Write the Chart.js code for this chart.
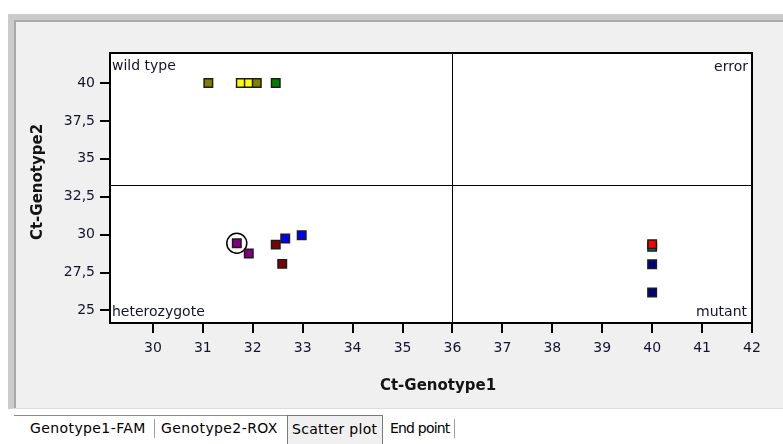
<!DOCTYPE html>
<html>
<head>
<meta charset="utf-8">
<title>Scatter plot</title>
<script src="https://cdn.jsdelivr.net/npm/chart.js@4/dist/chart.umd.min.js"></script>
<style>
  body {
    margin: 0;
    width: 783px;
    height: 444px;
    overflow: hidden;
    background: #fff;
    position: relative;
    font-family: "DejaVu Sans", sans-serif;
  }
  .frame {
    position: absolute;
    left: 8px;
    top: 14px;
    width: 800px;
    height: 395px;
    box-sizing: border-box;
    background: #f0f0f0;
    border-top: 6px solid #cbcbcb;
    border-left: 6px solid #cbcbcb;
    border-bottom: 1px solid #dcdcdc;
    box-shadow: inset 2px 2px 0 #a9a9a9;
  }
  .tabline {
    position: absolute;
    left: 14px;
    top: 415px;
    width: 274px;
    height: 0;
    border-top: 1px solid #8c8c8c;
  }
  .tab {
    position: absolute;
    top: 419px;
    font-size: 14px;
    line-height: 18px;
    color: #000;
    white-space: nowrap;
  }
  .tab.active {
    top: 415px;
    left: 287px;
    width: 96px;
    height: 40px;
    box-sizing: border-box;
    padding: 4px 0 0 4px;
    background: #f0f0f0;
    border: 1px solid #7a7a7a;
    border-bottom: none;
    letter-spacing: 0.3px;
  }
  .sep {
    position: absolute;
    top: 419px;
    width: 0;
    height: 19px;
    border-left: 1px solid #a0a0a0;
  }
  #chart {
    position: absolute;
    left: 0;
    top: 0;
  }
</style>
</head>
<body>
<div class="frame"></div>
<div class="tabline"></div>
<span class="tab" style="left:30px; letter-spacing:0.4px">Genotype1-FAM</span>
<div class="sep" style="left:154px"></div>
<span class="tab" style="left:161px; letter-spacing:0.4px">Genotype2-ROX</span>
<span class="tab active">Scatter plot</span>
<span class="tab" style="left:390px; letter-spacing:-0.8px">End point</span>
<div class="sep" style="left:454px"></div>
<canvas id="chart" width="783" height="444"></canvas>

<script>
// Ct values per well
const ct1 = [31.11, 31.76, 31.92, 32.08, 32.46, 31.68, 31.92, 32.46, 32.65, 32.98, 32.59, 40, 40, 40, 40];
const ct2 = [40, 40, 40, 40, 40, 29.43, 28.75, 29.34, 29.74, 29.96, 28.07, 29.2, 29.37, 28.05, 26.18];
const wellGroup = ["olive", "yellow", "yellow", "olive", "green", "purple", "purple", "maroon",
                   "blue", "blue", "maroon", "teal", "red", "navy", "navy"];
const selectedWell = 5;

const xTicks = [30, 31, 32, 33, 34, 35, 36, 37, 38, 39, 40, 41, 42];
const yTicks = [25, 27.5, 30, 32.5, 35, 37.5, 40];
const xRange = [29.14, 42];
const yRange = [24.17, 41.98];
const cutoffX = 36;
const cutoffY = 33.27;
const quadrantNames = ["wild type", "error", "heterozygote", "mutant"];
const xTitle = "Ct-Genotype1";
const yTitle = "Ct-Genotype2";

const palette = {
    olive: "#808000", yellow: "#ffff00", green: "#008000", purple: "#800080",
    maroon: "#800000", blue: "#0000ff", teal: "#008080", red: "#ff0000", navy: "#000080"
};

const textColor = "#141430";
const font = "DejaVu Sans";

// white plot area, frame, cut-off lines, quadrant names and axis titles
const plotDecor = {
    id: "plotDecor",
    beforeDraw(chart) {
        const { ctx, chartArea: a } = chart;
        ctx.save();
        ctx.fillStyle = "#fff";
        ctx.fillRect(a.left, a.top, a.right - a.left, a.bottom - a.top);
        ctx.restore();
    },
    beforeDatasetsDraw(chart) {
        const { ctx, chartArea: a, scales } = chart;
        const cx = Math.round(scales.x.getPixelForValue(cutoffX)) + 0.5;
        const cy = Math.round(scales.y.getPixelForValue(cutoffY)) + 0.5;
        ctx.save();
        ctx.strokeStyle = "#000";
        ctx.lineWidth = 1;
        ctx.beginPath();
        ctx.moveTo(cx, a.top);
        ctx.lineTo(cx, a.bottom);
        ctx.moveTo(a.left, cy);
        ctx.lineTo(a.right, cy);
        ctx.stroke();

        ctx.lineWidth = 2;
        ctx.strokeRect(a.left, a.top, a.right - a.left, a.bottom - a.top);

        ctx.fillStyle = textColor;
        ctx.font = "14px '" + font + "'";
        ctx.textBaseline = "middle";
        ctx.textAlign = "left";
        ctx.fillText(quadrantNames[0], a.left + 2, a.top + 13);
        ctx.fillText(quadrantNames[2], a.left + 2, a.bottom - 11);
        ctx.textAlign = "right";
        ctx.fillText(quadrantNames[1], a.right - 4, a.top + 14);
        ctx.fillText(quadrantNames[3], a.right - 5, a.bottom - 11);

        ctx.font = "bold 15px '" + font + "'";
        ctx.fillStyle = "#141414";
        ctx.textAlign = "center";
        ctx.fillText(xTitle, 438, 386);
        ctx.translate(38, 182);
        ctx.rotate(-Math.PI / 2);
        ctx.fillText(yTitle, 0, 0);
        ctx.restore();
    }
};

const tickFont = { family: font, size: 14 };

new Chart(document.getElementById("chart"), {
    type: "scatter",
    data: {
        datasets: [
            {
                label: "wells",
                data: ct1.map((x, i) => ({ x: x, y: ct2[i] })),
                pointStyle: "rect",
                pointRadius: 6,
                pointBorderWidth: 1.5,
                pointBorderColor: "#1c1c1c",
                pointBackgroundColor: wellGroup.map(g => palette[g])
            },
            {
                label: "selected",
                data: [{ x: ct1[selectedWell], y: ct2[selectedWell] }],
                pointStyle: "circle",
                pointRadius: 10,
                pointBorderWidth: 1.5,
                pointBorderColor: "#000",
                pointBackgroundColor: "rgba(0,0,0,0)"
            }
        ]
    },
    options: {
        responsive: false,
        animation: false,
        devicePixelRatio: 1,
        layout: { padding: { top: 53, right: 31, left: 0, bottom: 0 } },
        plugins: {
            legend: { display: false },
            tooltip: { enabled: false }
        },
        scales: {
            x: {
                type: "linear",
                min: xRange[0],
                max: xRange[1],
                afterBuildTicks: s => { s.ticks = xTicks.map(v => ({ value: v })); },
                afterFit: s => { s.height = 121; },
                border: { display: false },
                grid: { drawOnChartArea: false, drawTicks: true, tickLength: 10, color: "#000", lineWidth: 2 },
                ticks: { font: tickFont, color: textColor, padding: 7, maxRotation: 0 }
            },
            y: {
                type: "linear",
                min: yRange[0],
                max: yRange[1],
                afterBuildTicks: s => { s.ticks = yTicks.map(v => ({ value: v })); },
                afterFit: s => { s.width = 110; },
                border: { display: false },
                grid: { drawOnChartArea: false, drawTicks: true, tickLength: 10, color: "#000", lineWidth: 2 },
                ticks: {
                    font: tickFont,
                    color: textColor,
                    padding: 5,
                    callback: v => String(v).replace(".", ",")
                }
            }
        }
    },
    plugins: [plotDecor]
});
</script>
</body>
</html>
